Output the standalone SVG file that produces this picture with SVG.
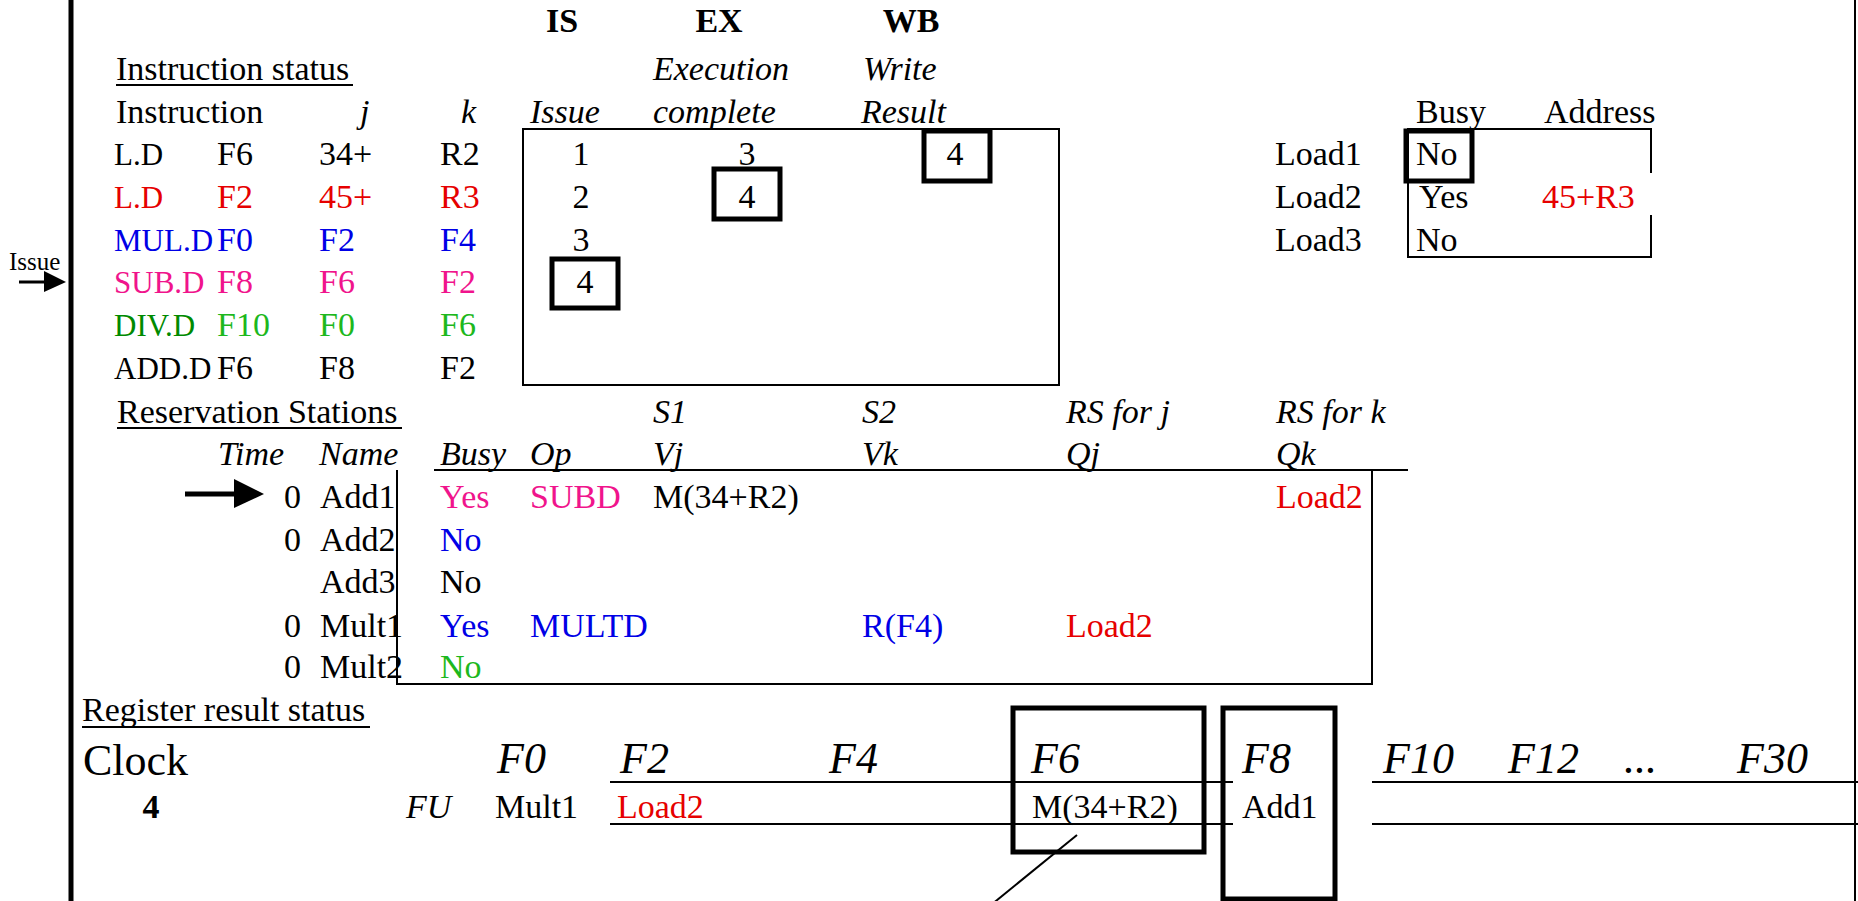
<svg xmlns="http://www.w3.org/2000/svg" width="1858" height="901" viewBox="0 0 1858 901">
<style>
text{font-family:"Liberation Serif","Times New Roman",serif;font-size:34px;fill:#000}
.i{font-style:italic}
.b{font-weight:bold}
.m{text-anchor:middle}
.big{font-size:44px}
.sm{font-size:25px}
.op{font-size:31px}
.r{fill:#E60000}
.p{fill:#F0148C}
.bl{fill:#0000E6}
.dg{fill:#008A00}
.g{fill:#1DB81D}
.thin{stroke:#000;stroke-width:2;fill:none}
.thick{stroke:#000;stroke-width:5;fill:none}
</style>
<rect width="1858" height="901" fill="#fff"/>
<g id="frame">
<line x1="71" y1="0" x2="71" y2="901" stroke="#000" stroke-width="5"/>
<line x1="1855" y1="0" x2="1855" y2="901" stroke="#000" stroke-width="2"/>
</g>
<g id="stage-headers">
<text class="b m" x="562" y="32">IS</text>
<text class="b m" x="719" y="32">EX</text>
<text class="b m" x="911" y="32">WB</text>
</g>
<g id="instruction-status">
<text x="116" y="80">Instruction status</text>
<line x1="116" y1="85" x2="353" y2="85" stroke="#000" stroke-width="2"/>
<text class="i" x="653" y="80">Execution</text>
<text class="i" x="863" y="80">Write</text>
<text x="116" y="123">Instruction</text>
<text class="i" x="360" y="123">j</text>
<text class="i" x="461" y="123">k</text>
<text class="i" x="530" y="123">Issue</text>
<text class="i" x="653" y="123">complete</text>
<text class="i" x="861" y="123">Result</text>
<text class="op" x="114" y="165">L.D</text><text x="217" y="165">F6</text><text x="319" y="165">34+</text><text x="440" y="165">R2</text>
<text class="op r" x="114" y="208">L.D</text><text class="r" x="217" y="208">F2</text><text class="r" x="319" y="208">45+</text><text class="r" x="440" y="208">R3</text>
<text class="op bl" x="114" y="251">MUL.D</text><text class="bl" x="217" y="251">F0</text><text class="bl" x="319" y="251">F2</text><text class="bl" x="440" y="251">F4</text>
<text class="op p" x="114" y="293">SUB.D</text><text class="p" x="217" y="293">F8</text><text class="p" x="319" y="293">F6</text><text class="p" x="440" y="293">F2</text>
<text class="op dg" x="114" y="336">DIV.D</text><text class="g" x="217" y="336">F10</text><text class="g" x="319" y="336">F0</text><text class="g" x="440" y="336">F6</text>
<text class="op" x="114" y="379">ADD.D</text><text x="217" y="379">F6</text><text x="319" y="379">F8</text><text x="440" y="379">F2</text>
<rect class="thin" x="523" y="129" width="536" height="256"/>
<text class="m" x="581" y="165">1</text>
<text class="m" x="581" y="208">2</text>
<text class="m" x="581" y="251">3</text>
<rect class="thick" x="552" y="259" width="66" height="49"/>
<text class="m" x="585" y="293">4</text>
<text class="m" x="747" y="165">3</text>
<rect class="thick" x="714" y="169" width="66" height="50"/>
<text class="m" x="747" y="208">4</text>
<rect class="thick" x="924" y="131" width="66" height="50"/>
<text class="m" x="955" y="165">4</text>
</g>
<g id="load-buffers">
<text x="1416" y="123">Busy</text>
<text x="1544" y="123">Address</text>
<text x="1275" y="165">Load1</text>
<text x="1275" y="208">Load2</text>
<text x="1275" y="251">Load3</text>
<path class="thin" d="M1651,173 V129 H1408 V257 H1651 V215"/>
<rect class="thick" x="1406" y="131" width="66" height="50"/>
<text x="1416" y="165">No</text>
<text x="1419" y="208">Yes</text>
<text x="1416" y="251">No</text>
<text class="r" x="1542" y="208">45+R3</text>
</g>
<g id="reservation-stations">
<text x="117" y="423">Reservation Stations</text>
<line x1="117" y1="428" x2="402" y2="428" stroke="#000" stroke-width="2"/>
<text class="i" x="653" y="423">S1</text>
<text class="i" x="862" y="423">S2</text>
<text class="i" x="1066" y="423">RS for j</text>
<text class="i" x="1276" y="423">RS for k</text>
<text class="i" x="218" y="465">Time</text>
<text class="i" x="319" y="465">Name</text>
<text class="i" x="440" y="465">Busy</text>
<text class="i" x="530" y="465">Op</text>
<text class="i" x="653" y="465">Vj</text>
<text class="i" x="862" y="465">Vk</text>
<text class="i" x="1066" y="465">Qj</text>
<text class="i" x="1276" y="465">Qk</text>
<line x1="434" y1="470" x2="1408" y2="470" stroke="#000" stroke-width="2"/>
<path class="thin" d="M397,470 V684 H1372 V471"/>
<text x="284" y="508">0</text><text x="320" y="508">Add1</text>
<text class="p" x="440" y="508">Yes</text><text class="p" x="530" y="508">SUBD</text><text x="653" y="508">M(34+R2)</text><text class="r" x="1276" y="508">Load2</text>
<text x="284" y="551">0</text><text x="320" y="551">Add2</text><text class="bl" x="440" y="551">No</text>
<text x="320" y="593">Add3</text><text x="440" y="593">No</text>
<text x="284" y="637">0</text><text x="320" y="637">Mult1</text>
<text class="bl" x="440" y="637">Yes</text><text class="bl" x="530" y="637">MULTD</text><text class="bl" x="862" y="637">R(F4)</text><text class="r" x="1066" y="637">Load2</text>
<text x="284" y="678">0</text><text x="320" y="678">Mult2</text><text class="g" x="440" y="678">No</text>
</g>
<g id="register-status">
<text x="82" y="721">Register result status</text>
<line x1="82" y1="727" x2="370" y2="727" stroke="#000" stroke-width="2"/>
<text class="big" x="83" y="775">Clock</text>
<text class="b m" x="151" y="818">4</text>
<text class="i big" x="497" y="773">F0</text>
<text class="i big" x="620" y="773">F2</text>
<text class="i big" x="829" y="773">F4</text>
<text class="i big" x="1031" y="773">F6</text>
<text class="i big" x="1242" y="773">F8</text>
<text class="i big" x="1383" y="773">F10</text>
<text class="i big" x="1508" y="773">F12</text>
<text class="i big" x="1624" y="773">...</text>
<text class="i big" x="1737" y="773">F30</text>
<line x1="610" y1="782" x2="1233" y2="782" stroke="#000" stroke-width="2"/>
<line x1="1372" y1="782" x2="1858" y2="782" stroke="#000" stroke-width="2"/>
<line x1="610" y1="824" x2="1233" y2="824" stroke="#000" stroke-width="2"/>
<line x1="1372" y1="824" x2="1858" y2="824" stroke="#000" stroke-width="2"/>
<text class="i" x="406" y="818">FU</text>
<text x="495" y="818">Mult1</text>
<text class="r" x="617" y="818">Load2</text>
<text x="1032" y="818">M(34+R2)</text>
<text x="1242" y="818">Add1</text>
<rect class="thick" x="1013" y="708" width="191" height="144"/>
<rect class="thick" x="1223" y="708" width="112" height="191"/>
</g>
<g id="issue-label">
<text class="sm" x="9" y="270">Issue</text>
</g>
<g id="connectors">
<line x1="19" y1="282" x2="46" y2="282" stroke="#000" stroke-width="3"/>
<polygon points="44,271 66,282 44,292" fill="#000"/>
<line x1="185" y1="494" x2="236" y2="494" stroke="#000" stroke-width="5"/>
<polygon points="234,479 264,494 234,508" fill="#000"/>
<line x1="1077" y1="835" x2="991" y2="905" stroke="#000" stroke-width="2"/>
</g>
</svg>
